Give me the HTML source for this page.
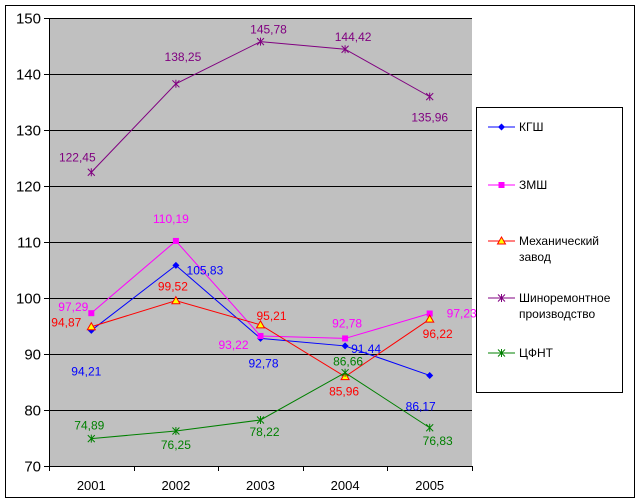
<!DOCTYPE html>
<html><head><meta charset="utf-8"><style>
body{margin:0;background:#fff;}
svg{display:block;font-family:"Liberation Sans",Arial,sans-serif;}
</style></head><body>
<svg id="chart" width="642" height="504" xmlns="http://www.w3.org/2000/svg">
<rect x="5.5" y="5.5" width="629" height="492" fill="#fff" stroke="#000"/>
<rect x="49" y="18" width="423" height="448" fill="#c0c0c0"/>
<g id="grid"></g><g id="axes"></g><g id="series"></g><g id="labels"></g>
<rect x="476.5" y="107.5" width="146" height="285" fill="#fff" stroke="#000"/>
<g id="legend"></g>
</svg>
<script>
const categories=["2001","2002","2003","2004","2005"];
const yTicks=[70,80,90,100,110,120,130,140,150];
const seriesNames=["КГШ","ЗМШ","Механический завод","Шиноремонтное производство","ЦФНТ"];
const kgsh=[94.21,105.83,92.78,91.44,86.17];
const zmsh=[97.29,110.19,93.22,92.78,97.23];
const mech=[94.87,99.52,95.21,85.96,96.22];
const shino=[122.45,138.25,145.78,144.42,135.96];
const cfnt=[74.89,76.25,78.22,86.66,76.83];
const colors=["#0000ff","#ff00ff","#ff0000","#800080","#008000"];
const markers=["diamond","square","triangle","star","star"];
const labelOff=[
 [[-5,41],[29,5],[3,25],[21,3],[-9,31]],
 [[-18,-6],[-5,-22],[-27,9],[2,-15],[32,0]],
 [[-25,-4],[-3,-14],[11,-9],[-1,15],[8,15]],
 [[-14,-15],[7,-27],[8,-12],[8,-12],[0,21]],
 [[-2,-13],[0,14],[4,12],[3,-11],[8,13]]];
const data=[kgsh,zmsh,mech,shino,cfnt];
const X0=49,W=423,Y0=18,H=448,YMIN=70,YMAX=150;
const x=i=>X0+W/categories.length*(i+0.5);
const y=v=>Y0+H*(YMAX-v)/(YMAX-YMIN);
const NS="http://www.w3.org/2000/svg";
function mk(t,a,p){const e=document.createElementNS(NS,t);for(const k in a)e.setAttribute(k,a[k]);p.appendChild(e);return e;}
const grid=document.getElementById('grid'),axes=document.getElementById('axes'),ser=document.getElementById('series'),lab=document.getElementById('labels'),leg=document.getElementById('legend');
yTicks.forEach(t=>{
 const yy=Math.round(y(t))+0.5;
 if(t>YMIN){const l=mk('line',{x1:X0,x2:X0+W,y1:yy,y2:yy,stroke:'#000','stroke-width':1},grid);
 
 }
 const tk=mk('line',{x1:X0-5,x2:X0,y1:yy,y2:yy,stroke:'#000'},axes);
 
 
 const tx=mk('text',{x:X0-8,y:yy+5,'text-anchor':'end','font-size':15},axes);tx.textContent=t;
 
 
});
const ax=mk('line',{x1:X0+0.5,x2:X0+0.5,y1:Y0,y2:Y0+H,stroke:'#000'},axes);


const bx=mk('line',{x1:X0,x2:X0+W,y1:Y0+H+0.5,y2:Y0+H+0.5,stroke:'#000'},axes);


for(let i=0;i<=categories.length;i++){const xx=Math.round(X0+W/categories.length*i)+0.5;
 const t=mk('line',{x1:xx,x2:xx,y1:Y0+H,y2:Y0+H+5,stroke:'#000'},axes);
 
 }
categories.forEach((c,i)=>{const t=mk('text',{x:x(i),y:Y0+H+24,'text-anchor':'middle','font-size':13},axes);t.textContent=c;
 
 });
function marker(type,cx,cy,col,p){
 let e;
 if(type=='diamond')e=mk('polygon',{points:`${cx},${cy-3.5} ${cx+3.5},${cy} ${cx},${cy+3.5} ${cx-3.5},${cy}`,fill:col},p);
 else if(type=='square')e=mk('rect',{x:cx-3,y:cy-3,width:6,height:6,fill:col},p);
 else if(type=='triangle')e=mk('polygon',{points:`${cx},${cy-4} ${cx+4},${cy+3} ${cx-4},${cy+3}`,fill:'#ffff00',stroke:col,'stroke-width':1},p);
 else e=mk('path',{d:`M${cx-3.5} ${cy-3.5}L${cx+3.5} ${cy+3.5}M${cx-3.5} ${cy+3.5}L${cx+3.5} ${cy-3.5}M${cx} ${cy-4}L${cx} ${cy+4}`,stroke:col,'stroke-width':1,fill:'none'},p);
 return e;}
data.forEach((vals,s)=>{
 const col=colors[s];
 const pl=mk('polyline',{points:vals.map((v,i)=>x(i)+','+y(v)).join(' '),fill:'none',stroke:col,'stroke-width':1},ser);
 
 
 vals.forEach((v,i)=>{
  const m=marker(markers[s],x(i),y(v),col,ser);
  
  
  const o=labelOff[s][i];
  const t=mk('text',{x:x(i)+o[0],y:y(v)+o[1]+4,'text-anchor':'middle','font-size':12,fill:col},lab);
  t.textContent=v.toFixed(2).replace('.',',');
  
  
 });
 const ly=[127,185,241,298,353][s];
 const l=mk('line',{x1:488,x2:515,y1:ly,y2:ly,stroke:col},leg);
 
 
 const lm=marker(markers[s],501.5,ly,col,leg);
 
 
 const words=seriesNames[s].split(' ');
 words.forEach((w,k)=>{const t=mk('text',{x:519,y:ly+4+k*16,'font-size':12},leg);t.textContent=w;
  
  });
});
</script>
</body></html>
